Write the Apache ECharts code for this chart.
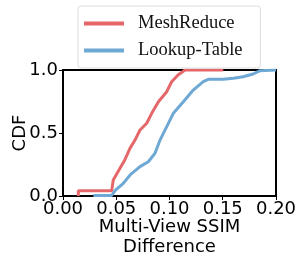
<!DOCTYPE html>
<html><head><meta charset="utf-8">
<script src="https://cdn.jsdelivr.net/npm/echarts@6/dist/echarts.min.js"></script>
<style>html,body{margin:0;padding:0;background:#fff}#c{width:297px;height:255px}</style>
</head><body><div id="c"></div>
<script>
const seriesNames = ['MeshReduce', 'Lookup-Table'];
const meshReduceX = [0.0144,0.0144,0.0457,0.0472,0.0535,0.058,0.063,0.0676,0.0723,0.0786,0.0833,0.0896,0.0974,0.102,0.108,0.1146,0.1505];
const meshReduceY = [0,0.042,0.042,0.127,0.22,0.286,0.38,0.444,0.524,0.577,0.656,0.748,0.828,0.907,0.96,1.0,1.0];
const lookupX = [0.0285,0.0457,0.0488,0.0566,0.063,0.0723,0.0801,0.0864,0.0911,0.0974,0.1036,0.113,0.1223,0.1317,0.1364,0.1505,0.16,0.169,0.1786,0.185,0.2];
const lookupY = [0.004,0.004,0.042,0.1,0.167,0.233,0.272,0.339,0.444,0.55,0.656,0.748,0.841,0.907,0.926,0.926,0.934,0.947,0.968,0.995,1.0];
const xTicks = [0, 0.05, 0.1, 0.15, 0.2];
const yTicks = [0, 0.5, 1.0];
const colors = ['#e5676a', '#6ea8d4'];

const chart = echarts.init(document.getElementById('c'), null, {renderer: 'canvas'});
const pair = (xs, ys) => xs.map((x, i) => [x, ys[i]]);
chart.setOption({
  animation: false,
  grid: {left: 63, right: 21, top: 70, bottom: 59, containLabel: false, outerBoundsMode: 'none',
    show: true, borderColor: '#000', borderWidth: 2, backgroundColor: 'transparent'},
  legend: {
    orient: 'vertical', left: 78, top: 6,
    borderColor: '#dddddd', borderWidth: 1, borderRadius: 3, backgroundColor: '#fff',
    padding: [8, 18, 8, 6], itemGap: 8, itemWidth: 40, itemHeight: 4, icon: 'rect',
    textStyle: {fontFamily: 'Liberation Serif', fontSize: 18.5, color: '#111', padding: [0, 0, 0, 9]},
    data: seriesNames
  },
  xAxis: {
    type: 'value', min: 0, max: 0.2, interval: 0.05,
    name: 'Multi-View SSIM\nDifference', nameLocation: 'middle', nameGap: 21, nameMoveOverlap: false,
    nameTextStyle: {fontFamily: 'DejaVu Sans', fontSize: 18, color: '#000', lineHeight: 20},
    axisLine: {show: true, lineStyle: {color: '#000', width: 2}},
    axisTick: {show: true, length: 4, lineStyle: {color: '#000'}},
    axisLabel: {fontFamily: 'DejaVu Sans', fontSize: 18, color: '#000', margin: 4,
      formatter: v => v.toFixed(2)},
    splitLine: {show: false}
  },
  yAxis: {
    type: 'value', min: 0, max: 1, interval: 0.5,
    name: 'CDF', nameLocation: 'middle', nameGap: 34, nameMoveOverlap: false,
    nameTextStyle: {fontFamily: 'DejaVu Sans', fontSize: 18, color: '#000'},
    axisLine: {show: true, lineStyle: {color: '#000', width: 2}},
    axisTick: {show: true, length: 4, lineStyle: {color: '#000'}},
    axisLabel: {fontFamily: 'DejaVu Sans', fontSize: 18, color: '#000', margin: 5,
      formatter: v => v.toFixed(1)},
    splitLine: {show: false}
  },
  series: [
    {name: seriesNames[0], type: 'line', data: pair(meshReduceX, meshReduceY), showSymbol: false, symbol: 'none',
      color: colors[0], lineStyle: {width: 3, color: colors[0]}, z: 3},
    {name: seriesNames[1], type: 'line', data: pair(lookupX, lookupY), showSymbol: false, symbol: 'none',
      color: colors[1], lineStyle: {width: 3, color: colors[1]}, z: 2}
  ]
});
</script></body></html>
